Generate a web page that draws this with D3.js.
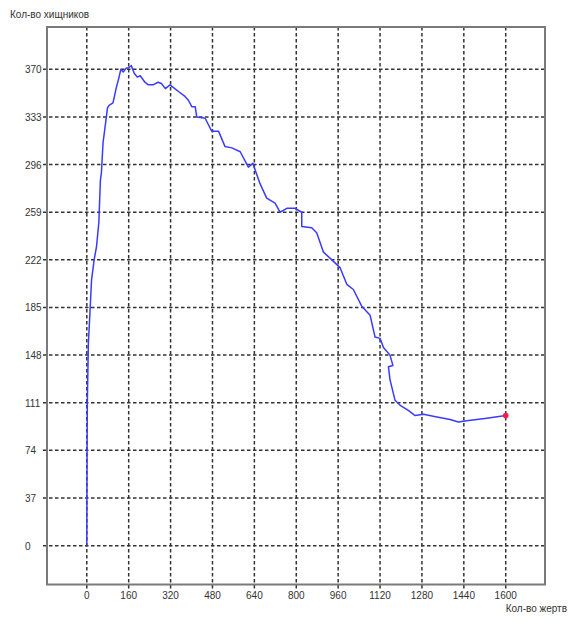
<!DOCTYPE html>
<html>
<head>
<meta charset="utf-8">
<script src="https://cdn.jsdelivr.net/npm/d3@7"></script>
<style>
  body { margin: 0; background: #fff; }
  svg text { font-family: "Liberation Sans", Arial, sans-serif; font-size: 10px; fill: #333; }
</style>
</head>
<body>
<svg id="chart" width="584" height="625"></svg>
<script>
// Фазовый портрет: хищники против жертв
const xTicks = [0, 160, 320, 480, 640, 800, 960, 1120, 1280, 1440, 1600];
const yTicks = [0, 37, 74, 111, 148, 185, 222, 259, 296, 333, 370];

const prey = [0, 1, 2, 6, 12, 18, 28, 37, 46, 52, 56, 62, 69, 79, 85, 100, 113, 122, 130, 139,
  151, 160, 170, 181, 193, 204, 222, 235, 253, 272, 285, 300, 318, 336, 349, 375, 388, 401,
  414, 420, 452, 477, 503, 528, 554, 586, 617, 634, 662, 687, 719, 738, 764, 796, 821, 821,
  859, 878, 904, 936, 967, 993, 1018, 1050, 1082, 1101, 1120, 1133, 1158, 1169, 1152, 1158,
  1177, 1197, 1228, 1254, 1286, 1337, 1388, 1419, 1451, 1528, 1600];
const predators = [0, 74, 111, 157, 181, 206, 222, 232, 251, 284, 290, 313, 324, 340, 342, 344,
  356, 363, 370, 368, 371, 371, 373, 367, 364, 365, 360, 358, 358, 360, 359, 355, 358, 355,
  353, 349, 346, 341, 341, 333, 332, 322, 322, 310, 309, 306, 294, 297, 281, 270, 266, 259,
  262, 262, 259, 248, 247, 243, 228, 222, 216, 203, 199, 186, 179, 162, 161, 154, 148, 140,
  139, 129, 113, 109, 105, 101, 102, 100, 98, 96, 97, 99, 101];

const svg = d3.select('#chart'),
  frame = { left: 47, right: 545, top: 27, bottom: 584.5 };

const x = d3.scaleLinear().domain([-152, 1750]).range([frame.left, frame.right]);
const y = d3.scaleLinear().domain([-30.2, 402.9]).range([frame.bottom, frame.top]);

const points = prey.map((p, i) => [p, predators[i]]);

// сетка
svg.append('g')
  .selectAll('line')
  .data(xTicks)
  .join('line')
  .attr('x1', d => x(d)).attr('x2', d => x(d))
  .attr('y1', frame.top).attr('y2', frame.bottom + 5)
  .attr('stroke', '#333')
  .attr('stroke-width', 1.5)
  .attr('stroke-dasharray', '3.5,2.5');

svg.append('g')
  .selectAll('line')
  .data(yTicks)
  .join('line')
  .attr('x1', frame.left - 4).attr('x2', frame.right)
  .attr('y1', d => y(d)).attr('y2', d => y(d))
  .attr('stroke', '#333')
  .attr('stroke-width', 1.5)
  .attr('stroke-dasharray', '3.5,2.5');

// рамка
svg.append('rect')
  .attr('x', frame.left).attr('y', frame.top)
  .attr('width', frame.right - frame.left)
  .attr('height', frame.bottom - frame.top)
  .attr('fill', 'none')
  .attr('stroke', '#7a7a7a')
  .attr('stroke-width', 2);

// подписи делений
svg.append('g')
  .selectAll('text')
  .data(xTicks)
  .join('text')
  .attr('x', d => x(d))
  .attr('y', frame.bottom + 14)
  .attr('text-anchor', 'middle')
  .text(d => d);

svg.append('g')
  .selectAll('text')
  .data(yTicks)
  .join('text')
  .attr('x', 25)
  .attr('y', d => y(d) + 4)
  .text(d => d);

// кривая
const line = d3.line()
  .x(d => x(d[0]))
  .y(d => y(d[1]));

svg.append('path')
  .datum(points)
  .attr('d', line)
  .attr('fill', 'none')
  .attr('stroke', '#3b3bff')
  .attr('stroke-width', 1.5)
  .attr('stroke-linejoin', 'round');

const last = points[points.length - 1];
svg.append('circle')
  .attr('cx', x(last[0]))
  .attr('cy', y(last[1]))
  .attr('r', 2.8)
  .attr('fill', '#ff1a4a');

// названия осей
svg.append('text')
  .attr('x', 10)
  .attr('y', 18)
  .text('Кол-во хищников');

svg.append('text')
  .attr('x', 567)
  .attr('y', 612)
  .attr('text-anchor', 'end')
  .text('Кол-во жертв');
</script>
</body>
</html>
